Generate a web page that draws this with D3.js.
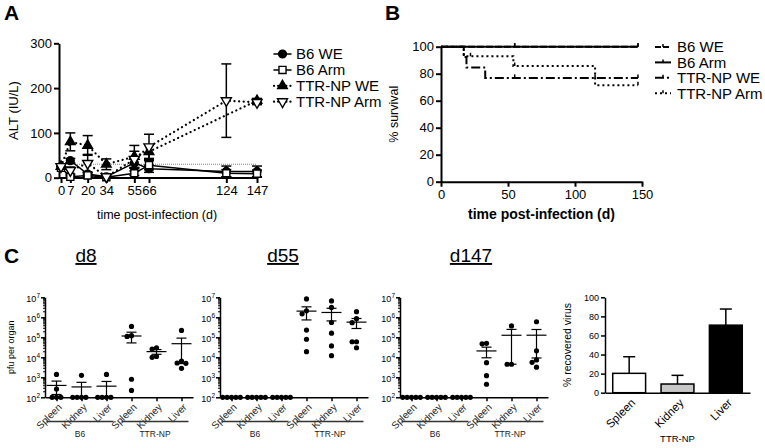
<!DOCTYPE html>
<html><head><meta charset="utf-8">
<script src="https://cdn.jsdelivr.net/npm/d3@7/dist/d3.min.js"></script>
<style>body{margin:0;background:#fff}text{font-family:"Liberation Sans",Arial,Helvetica,sans-serif}</style>
</head><body><svg id="chart" width="765" height="448"></svg>
<script>
// ---------- Panel A: ALT over time ----------
const altDays = [0, 7, 20, 34, 55, 66, 124, 147];
const altYTicks = [0, 100, 200, 300];
const altNormal = 30;
const seriesNames = ["B6 WE", "B6 Arm", "TTR-NP WE", "TTR-NP Arm"];
const altB6WE      = [25, 38, 8, 2, 33, 20, 14, 14];
const altB6WEErr   = [5, 5, 4, 2, 12, 8, 12, 12];
const altB6Arm     = [22, 2, 5, 1, 10, 28, 10, 9];
const altB6ArmErr  = [3, 2, 3, 1, 5, 10, 8, 8];
const altTTRWE     = [25, 80, 72, 30, 47, 58, null, 172];
const altTTRWEErr  = [5, 20, 22, 12, 25, 15, null, 5];
const altTTRArm    = [25, 16, 32, 2, 41, 69, 172, 168];
const altTTRArmErr = [5, 8, 20, 2, 18, 28, 82, 5];

// ---------- Panel B: survival ----------
const survXTicks = [0, 50, 100, 150];
const survYTicks = [0, 20, 40, 60, 80, 100];
const survB6WETimes = [0, 147],  survB6WEPct = [100, 100];
const survB6ArmTimes = [0, 147], survB6ArmPct = [100, 100];
const survTTRWETimes = [0, 17, 19, 33, 147],  survTTRWEPct = [100, 92.3, 84.6, 76.9, 76.9];
const survTTRArmTimes = [0, 17, 54, 115, 147], survTTRArmPct = [100, 92.9, 85.7, 71.4, 71.4];
const censorB6WE = [55, 147], censorB6Arm = [55, 147];
const censorTTRWE = [55, 115, 147], censorTTRArm = [22, 55, 147];

// ---------- Panel C: pfu per organ ----------
const organs = ["Spleen", "Kidney", "Liver"];
const strains = ["B6", "TTR-NP"];
const logTicks = [1e2, 1e3, 1e4, 1e5, 1e6, 1e7];
const d8B6Spleen = [1400, 260, 100, 100, 100];
const d8B6Kidney = [1250, 100, 100, 100, 100];
const d8B6Liver  = [1400, 100, 100, 100, 100];
const d8TTRSpleen = [350000, 120000, 110000, 800, 220];
const d8TTRKidney = [30000, 26000, 10000, 11000];
const d8TTRLiver  = [220000, 6500, 5000, 5200, 2800];
const d55B6Spleen = [100, 100, 100, 100, 100];
const d55B6Kidney = [100, 100, 100, 100, 100];
const d55B6Liver  = [100, 100, 100, 100, 100];
const d55TTRSpleen = [8.3e6, 2.1e6, 1.5e6, 2.3e5, 8e4, 1.9e4];
const d55TTRKidney = [6.6e6, 3.1e6, 5.5e5, 1.6e5, 3.7e4, 1.2e4];
const d55TTRLiver  = [1.9e6, 8.5e5, 5.4e5, 6e4, 6e4, 3e4];
const d147B6Spleen = [100, 100, 100, 100, 100];
const d147B6Kidney = [100, 100, 100, 100, 100];
const d147B6Liver  = [100, 100, 100, 100, 100];
const d147TTRSpleen = [50000, 47000, 5400, 1200, 450];
const d147TTRKidney = [370000, 4500, 4500];
const d147TTRLiver  = [600000, 21000, 7400, 5600, 3200];

// ---------- Panel C: % recovered virus ----------
const recoveredTicks = [0, 20, 40, 60, 80, 100];
const recoveredMean = [20.3, 9.1, 70.8];
const recoveredErr  = [17.4, 9.1, 16.9];
const recoveredFill = ["#ffffff", "#c8c8c8", "#000000"];

// =====================================================================
const svg = d3.select("#chart");
const F = '"Liberation Sans", Arial, sans-serif';

function styleAxis(g, w, fs) {
  g.select(".domain").attr("stroke", "#000").attr("stroke-width", w);
  g.selectAll(".tick line").attr("stroke", "#000").attr("stroke-width", w);
  g.selectAll(".tick text").attr("fill", "#000").style("font-family", F).style("font-size", fs + "px");
}

// Panel letters
[["A", 4, 20], ["B", 385, 20], ["C", 4, 263]].forEach(([t, x, y]) =>
  svg.append("text").attr("x", x).attr("y", y).text(t)
     .style("font-size", "21px").style("font-weight", "bold"));

// ---------------- Panel A ----------------
const axAX = 59, axAY = 178;
const xA = d3.scaleLinear().domain([0, 147]).range([61, 257]);
const yA = d3.scaleLinear().domain([0, 300]).range([177.7, 43.3]);

const gAy = svg.append("g").attr("transform", `translate(${axAX},0)`)
  .call(d3.axisLeft(yA).tickValues(altYTicks).tickSize(5).tickSizeOuter(0).tickPadding(2));
styleAxis(gAy, 2, 13);
const gAx = svg.append("g").attr("transform", `translate(0,${axAY})`)
  .call(d3.axisBottom(xA).tickValues(altDays).tickSize(5).tickSizeOuter(0).tickPadding(3));
gAx.select(".domain").attr("d", `M${axAX},0H${xA.range()[1] + 1}`);
styleAxis(gAx, 2, 13);

svg.append("text").attr("transform", `translate(18,${(yA.range()[0] + yA.range()[1]) / 2}) rotate(-90)`)
  .attr("text-anchor", "middle").style("font-size", "13px").text("ALT (IU/L)");
svg.append("text").attr("x", 157).attr("y", 219).attr("text-anchor", "middle")
  .style("font-size", "12.5px").text("time post-infection (d)");

// normal-limit line
svg.append("line").attr("x1", xA(0)).attr("x2", xA(147)).attr("y1", yA(altNormal)).attr("y2", yA(altNormal))
  .attr("stroke", "#888").attr("stroke-width", 1).attr("stroke-dasharray", "1,1");

const altVals = [altB6WE, altB6Arm, altTTRWE, altTTRArm];
const altErrs = [altB6WEErr, altB6ArmErr, altTTRWEErr, altTTRArmErr];
const markers = [
  { type: d3.symbolCircle, fill: "#000", size: 48, rot: 0 },
  { type: d3.symbolSquare, fill: "#fff", size: 50, rot: 0 },
  { type: d3.symbolTriangle, fill: "#000", size: 40, rot: 0 },
  { type: d3.symbolTriangle, fill: "#fff", size: 44, rot: 180 }
];
const lineDash = [null, null, "0.1,4.5", "0.1,4.5"];
const lineA = d3.line().x(d => xA(d.day)).y(d => yA(d.v));
const altPts = altVals.map((vals, i) => altDays.map((day, j) => ({ day, v: vals[j], e: altErrs[i][j] })).filter(d => d.v !== null));

altPts.forEach((pts, i) => {
  svg.append("path").attr("d", lineA(pts)).attr("fill", "none").attr("stroke", "#000")
    .attr("stroke-width", lineDash[i] ? 2.2 : 1.5).attr("stroke-linecap", "round")
    .attr("stroke-dasharray", lineDash[i]);
});
altPts.forEach(pts => {
  const g = svg.append("g");
  pts.forEach(d => {
    const x = xA(d.day), y1 = yA(d.v + d.e), y0 = yA(Math.max(0, d.v - d.e));
    g.append("line").attr("x1", x).attr("x2", x).attr("y1", y0).attr("y2", y1).attr("stroke", "#000").attr("stroke-width", 1.5);
    [y0, y1].forEach(y => g.append("line").attr("x1", x - 5).attr("x2", x + 5).attr("y1", y).attr("y2", y).attr("stroke", "#000").attr("stroke-width", 1.5));
  });
});
altPts.forEach((pts, i) => {
  const m = markers[i];
  svg.append("g").selectAll("path").data(pts).join("path")
    .attr("d", d3.symbol().type(m.type).size(m.size))
    .attr("transform", d => `translate(${xA(d.day)},${yA(d.v)}) rotate(${m.rot})`)
    .attr("fill", m.fill).attr("stroke", "#000").attr("stroke-width", 1.4);
});

// legend A
seriesNames.forEach((name, i) => {
  const y = 54 + i * 15.9, m = markers[i];
  svg.append("line").attr("x1", 274).attr("x2", 291).attr("y1", y).attr("y2", y)
    .attr("stroke", "#000").attr("stroke-width", lineDash[i] ? 2.2 : 1.5).attr("stroke-linecap", "round")
    .attr("stroke-dasharray", lineDash[i] ? "0.1,4" : null);
  svg.append("path").attr("d", d3.symbol().type(m.type).size(m.size)())
    .attr("transform", `translate(282.5,${y}) rotate(${m.rot})`).attr("fill", m.fill).attr("stroke", "#000").attr("stroke-width", 1.4);
  svg.append("text").attr("x", 296).attr("y", y).attr("dy", "0.36em").style("font-size", "15px").text(name);
});

// ---------------- Panel B ----------------
const xB = d3.scaleLinear().domain([0, 150]).range([441, 642]);
const yB = d3.scaleLinear().domain([0, 100]).range([181.7, 46.7]);
const gBy = svg.append("g").attr("transform", `translate(${xB(0)},0)`)
  .call(d3.axisLeft(yB).tickValues(survYTicks).tickSize(5).tickSizeOuter(0).tickPadding(2));
styleAxis(gBy, 2, 13);
const gBx = svg.append("g").attr("transform", `translate(0,${yB(0)})`)
  .call(d3.axisBottom(xB).tickValues(survXTicks).tickSize(5).tickSizeOuter(0).tickPadding(3));
styleAxis(gBx, 2, 13);
svg.append("text").attr("transform", `translate(398,${(yB(0) + yB(100)) / 2}) rotate(-90)`)
  .attr("text-anchor", "middle").style("font-size", "12.5px").text("% survival");
svg.append("text").attr("x", (xB(0) + xB(150)) / 2).attr("y", 219).attr("text-anchor", "middle")
  .style("font-size", "14px").style("font-weight", "bold").text("time post-infection (d)");

const survTimes = [survB6WETimes, survB6ArmTimes, survTTRWETimes, survTTRArmTimes];
const survPct = [survB6WEPct, survB6ArmPct, survTTRWEPct, survTTRArmPct];
const censors = [censorB6WE, censorB6Arm, censorTTRWE, censorTTRArm];
const survDash = ["7,2", null, "9,3,2,3", "2,3"];
const stepLine = d3.line().x(d => xB(d.t)).y(d => yB(d.s)).curve(d3.curveStepAfter);
survTimes.forEach((ts, i) => {
  const pts = ts.map((t, j) => ({ t, s: survPct[i][j] }));
  svg.append("path").attr("d", stepLine(pts)).attr("fill", "none").attr("stroke", "#000")
    .attr("stroke-width", 2).attr("stroke-dasharray", survDash[i]);
  censors[i].forEach(c => {
    const s = pts.filter(p => p.t <= c).slice(-1)[0].s;
    svg.append("line").attr("x1", xB(c)).attr("x2", xB(c)).attr("y1", yB(s)).attr("y2", yB(s) - 3.5)
      .attr("stroke", "#000").attr("stroke-width", 1.5);
  });
});
seriesNames.forEach((name, i) => {
  const y = 47 + i * 15.4;
  svg.append("line").attr("x1", 655).attr("x2", 671).attr("y1", y).attr("y2", y)
    .attr("stroke", "#000").attr("stroke-width", 2).attr("stroke-dasharray", survDash[i] ? (i === 0 ? "6,2" : survDash[i]) : null);
  svg.append("line").attr("x1", 663).attr("x2", 663).attr("y1", y).attr("y2", y - 3).attr("stroke", "#000").attr("stroke-width", 1.5);
  svg.append("text").attr("x", 677).attr("y", y).attr("dy", "0.36em").style("font-size", "15px").text(name);
});

// ---------------- Panel C: dot plots ----------------
const yC = d3.scaleLog().domain([1e2, 1e7]).range([397.3, 297.3]);
const minorTicks = [];
logTicks.slice(0, -1).forEach(t => { for (let k = 2; k <= 9; k++) minorTicks.push(t * k); });

function swarm(vals, d) {
  const pts = vals.map(v => ({ v, y: yC(v) })).sort((a, b) => a.y - b.y);
  const placed = [];
  pts.forEach(p => {
    for (let k = 0; k < 30; k++) {
      const off = k === 0 ? 0 : (k % 2 ? -Math.ceil(k / 2) * d : Math.ceil(k / 2) * d);
      if (placed.every(q => Math.hypot(q.dx - off, q.y - p.y) >= d)) { p.dx = off; break; }
    }
    placed.push(p);
  });
  return placed;
}

function dotPanel(x0, title, titleX, groups, showYLabel) {
  const xC = d3.scalePoint().domain(d3.range(6)).range([x0, x0 + 148]).padding(0.46);
  const gy = svg.append("g").attr("transform", `translate(${x0},0)`)
    .call(d3.axisLeft(yC).tickValues(logTicks).tickFormat("").tickSize(4).tickSizeOuter(0));
  styleAxis(gy, 1.5, 9);
  gy.selectAll(".tick").append("text").attr("x", -5).attr("y", 0).attr("dy", "0.45em")
    .attr("text-anchor", "end").attr("fill", "#000").style("font-size", "9px")
    .each(function (d) {
      const t = d3.select(this);
      t.append("tspan").text("10");
      t.append("tspan").attr("dy", "-4").style("font-size", "6.5px").text(Math.round(Math.log10(d)));
    });
  const gm = svg.append("g").attr("transform", `translate(${x0},0)`)
    .call(d3.axisLeft(yC).tickValues(minorTicks).tickFormat("").tickSize(2).tickSizeOuter(0));
  gm.select(".domain").remove();
  gm.selectAll(".tick line").attr("stroke", "#000").attr("stroke-width", 1);

  const gx = svg.append("g").attr("transform", `translate(0,${yC(1e2)})`)
    .call(d3.axisBottom(xC).tickFormat(i => organs[i % 3]).tickSize(4).tickSizeOuter(0));
  styleAxis(gx, 1.5, 10);
  gx.selectAll(".tick text").attr("x", 0).attr("y", 0).attr("dy", "0.35em").attr("text-anchor", "end")
    .attr("transform", "translate(3,8) rotate(-45)").attr("fill", "#222");

  // group lines
  strains.forEach((s, k) => {
    const a = xC(k * 3) - 10, b = xC(k * 3 + 2) + 7;
    svg.append("line").attr("x1", a).attr("x2", b).attr("y1", 421.5).attr("y2", 421.5).attr("stroke", "#333").attr("stroke-width", 1.3);
    svg.append("text").attr("x", (a + b) / 2).attr("y", 437).attr("text-anchor", "middle").style("font-size", "8.5px").attr("fill", "#222").text(s);
  });

  // title
  svg.append("text").attr("x", titleX).attr("y", 262).attr("text-anchor", "middle")
    .style("font-size", "19px").style("text-decoration", "underline").text(title);

  if (showYLabel)
    svg.append("text").attr("transform", `translate(14,${(yC(1e2) + yC(1e7)) / 2}) rotate(-90)`)
      .attr("text-anchor", "middle").style("font-size", "9px").text("pfu per organ");

  groups.forEach((vals, i) => {
    const cx = xC(i);
    const mean = d3.mean(vals);
    const sem = vals.length > 1 ? d3.deviation(vals) / Math.sqrt(vals.length) : 0;
    const hi = mean + sem, lo = Math.max(1e2, mean - sem);
    const g = svg.append("g");
    swarm(vals, 4.4).forEach(p => g.append("circle").attr("cx", cx + p.dx).attr("cy", p.y).attr("r", 2.6).attr("fill", "#000"));
    g.append("line").attr("x1", cx).attr("x2", cx).attr("y1", yC(lo)).attr("y2", yC(hi)).attr("stroke", "#000").attr("stroke-width", 1.2);
    g.append("line").attr("x1", cx - 10).attr("x2", cx + 10).attr("y1", yC(mean)).attr("y2", yC(mean)).attr("stroke", "#000").attr("stroke-width", 1.2);
    [lo, hi].forEach(v => g.append("line").attr("x1", cx - 5).attr("x2", cx + 5).attr("y1", yC(v)).attr("y2", yC(v)).attr("stroke", "#000").attr("stroke-width", 1.2));
  });
}

dotPanel(45, "d8", 86, [d8B6Spleen, d8B6Kidney, d8B6Liver, d8TTRSpleen, d8TTRKidney, d8TTRLiver], true);
dotPanel(220, "d55", 283, [d55B6Spleen, d55B6Kidney, d55B6Liver, d55TTRSpleen, d55TTRKidney, d55TTRLiver], false);
dotPanel(400, "d147", 471, [d147B6Spleen, d147B6Kidney, d147B6Liver, d147TTRSpleen, d147TTRKidney, d147TTRLiver], false);

// ---------------- Panel C: bar chart ----------------
const xR = d3.scaleBand().domain(organs).range([605, 750]).paddingInner(0.32).paddingOuter(0.16);
const yR = d3.scaleLinear().domain([0, 100]).range([392.7, 297.3]);
const gRy = svg.append("g").attr("transform", `translate(${xR.range()[0]},0)`)
  .call(d3.axisLeft(yR).tickValues(recoveredTicks).tickSize(4).tickSizeOuter(0).tickPadding(2));
styleAxis(gRy, 1.5, 9);
const gRx = svg.append("g").attr("transform", `translate(0,${yR(0)})`)
  .call(d3.axisBottom(xR).tickSize(0).tickSizeOuter(0));
styleAxis(gRx, 1.5, 11.5);
gRx.selectAll(".tick text").attr("x", 0).attr("y", 0).attr("dy", "0.35em").attr("text-anchor", "end")
  .attr("transform", "translate(4,8) rotate(-45)");
organs.forEach((o, i) => {
  const x = xR(o), w = xR.bandwidth(), cx = x + w / 2;
  svg.append("line").attr("x1", cx).attr("x2", cx).attr("y1", yR(recoveredMean[i])).attr("y2", yR(recoveredMean[i] + recoveredErr[i])).attr("stroke", "#000").attr("stroke-width", 1.5);
  svg.append("line").attr("x1", cx - 6).attr("x2", cx + 6).attr("y1", yR(recoveredMean[i] + recoveredErr[i])).attr("y2", yR(recoveredMean[i] + recoveredErr[i])).attr("stroke", "#000").attr("stroke-width", 1.5);
  svg.append("rect").attr("x", x).attr("width", w).attr("y", yR(recoveredMean[i])).attr("height", yR(0) - yR(recoveredMean[i]))
    .attr("fill", recoveredFill[i]).attr("stroke", "#000").attr("stroke-width", 1.5);
});
svg.append("text").attr("transform", `translate(571,${(yR(0) + yR(100)) / 2}) rotate(-90)`)
  .attr("text-anchor", "middle").style("font-size", "10.5px").text("% recovered virus");
svg.append("text").attr("x", (xR.range()[0] + xR.range()[1]) / 2).attr("y", 442).attr("text-anchor", "middle")
  .style("font-size", "9.5px").text("TTR-NP");
</script></body></html>
